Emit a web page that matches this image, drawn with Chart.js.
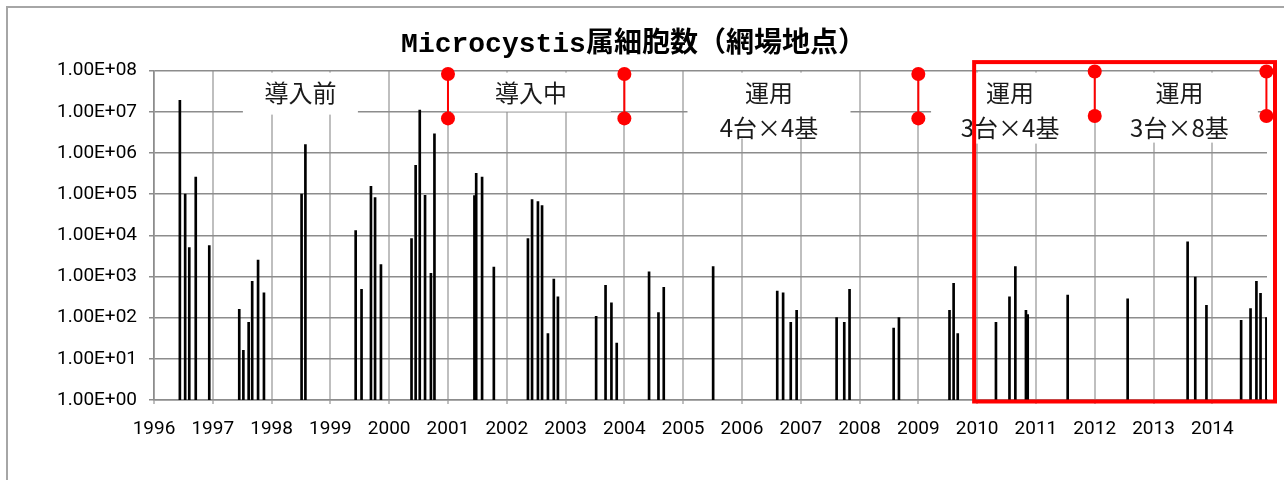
<!DOCTYPE html>
<html>
<head>
<meta charset="utf-8">
<script src="https://cdn.jsdelivr.net/npm/chart.js@4.4.0/dist/chart.umd.min.js"></script>
<style>
  html, body { margin: 0; padding: 0; background: #fff; }
  #wrap { position: relative; width: 1284px; height: 480px; overflow: hidden; }
  #frame { position: absolute; left: 6px; top: 6px; width: 1400px; height: 600px;
           border-left: 2px solid #a6a6a6; border-top: 2px solid #a6a6a6; }
  canvas { position: absolute; left: 0; top: 0; }
</style>
</head>
<body>
<div id="wrap">
  <div id="frame"></div>
  <canvas id="chart" width="1284" height="480"></canvas>
</div>
<script>
// ===== Data =====

const sampleYears = [
  1996.44, 1996.53, 1996.60, 1996.71, 1996.94,
  1997.45, 1997.52, 1997.61, 1997.67, 1997.77, 1997.87,
  1998.51, 1998.575,
  1999.43, 1999.53, 1999.69, 1999.76, 1999.86,
  2000.38, 2000.45, 2000.52, 2000.61, 2000.71, 2000.77,
  2001.45, 2001.48, 2001.58, 2001.78,
  2002.36, 2002.43, 2002.53, 2002.60, 2002.70, 2002.80, 2002.87,
  2003.52, 2003.68, 2003.78, 2003.87,
  2004.42, 2004.58, 2004.67,
  2005.51,
  2006.60, 2006.70, 2006.83, 2006.93,
  2007.61, 2007.74, 2007.83,
  2008.58, 2008.67,
  2009.53, 2009.60, 2009.67,
  2010.32, 2010.55, 2010.65, 2010.83, 2010.86,
  2011.54,
  2012.56,
  2013.58, 2013.71, 2013.90,
  2014.49, 2014.65, 2014.75, 2014.82, 2014.92
];

const cellCounts = [
  1.9e7, 1.0e5, 5.0e3, 2.6e5, 5.6e3,
  160, 16, 77, 760, 2500, 400,
  1.0e5, 1.6e6,
  1.3e4, 490, 1.55e5, 8.3e4, 1950,
  8.3e3, 5.0e5, 1.1e7, 9.3e4, 1.2e3, 2.9e6,
  9.2e4, 3.2e5, 2.6e5, 1.7e3,
  8.3e3, 7.4e4, 6.6e4, 5.3e4, 41, 860, 320,
  108, 610, 230, 24,
  1.3e3, 132, 545,
  1.75e3,
  440, 400, 77, 150,
  100, 77, 490,
  56, 100,
  150, 680, 41,
  77, 320, 1750, 150, 118,
  355,
  285,
  6.9e3, 970, 200,
  86, 166, 760, 390, 100
];

// red phase markers
const phaseLineYears = [2001, 2004, 2009, 2012, 2014.92];
const phaseLineTop = [8.3e7, 8.3e7, 8.3e7, 9.5e7, 9.5e7];
const phaseLineBottom = [6.9e6, 6.9e6, 6.9e6, 7.9e6, 7.9e6];

const phaseLabels = [['導入前'], ['導入中'], ['運用', '4台×4基'], ['運用', '3台×4基'], ['運用', '3台×8基']];

const yTickValues = [1, 1e1, 1e2, 1e3, 1e4, 1e5, 1e6, 1e7, 1e8];

// ===== Annotation plugin =====

const phaseLayout = {
  centers: [1998.49, 2002.41, 2006.46, 2010.56, 2013.44],
  boxes: [[115, 42], [160, 39], [163, 66], [158, 71], [157, 70]]
};

const phasePlugin = {
  id: 'phases',
  beforeDatasetsDraw(chart) {
    const {ctx, chartArea, scales} = chart;
    ctx.save();
    phaseLabels.forEach((lines, i) => {
      const cx = scales.x.getPixelForValue(phaseLayout.centers[i]);
      const [w, h] = phaseLayout.boxes[i];
      ctx.fillStyle = '#ffffff';
      ctx.fillRect(cx - w / 2, chartArea.top + 2, w, h);
      ctx.fillStyle = '#1a1a1a';
      ctx.font = '24px "Noto Sans CJK JP"';
      ctx.textAlign = 'center';
      ctx.textBaseline = 'middle';
      lines.forEach((t, j) => ctx.fillText(t, cx, chartArea.top + 22 + j * 35));
    });
    ctx.restore();
  },
  afterDraw(chart) {
    const {ctx, chartArea, scales} = chart;
    const left = scales.x.getPixelForValue(2010) - 3;
    const top = chartArea.top - 8.5;
    ctx.save();
    ctx.strokeStyle = '#ff0000';
    ctx.lineWidth = 4;
    ctx.strokeRect(left, top, chartArea.right + 8 - left, chartArea.bottom + 1.5 - top);
    ctx.restore();
  }
};

// ===== Datasets =====

const barDataset = {
  type: 'bar',
  data: sampleYears.map((x, i) => ({x: x, y: cellCounts[i]})),
  backgroundColor: '#000000',
  borderWidth: 0,
  barThickness: 2,
  order: 2
};

const markerDatasets = phaseLineYears.map((yr, i) => ({
  type: 'line',
  data: [{x: yr, y: phaseLineTop[i]}, {x: yr, y: phaseLineBottom[i]}],
  borderColor: '#ff0000',
  borderWidth: 2,
  pointRadius: 7,
  pointBackgroundColor: '#ff0000',
  pointBorderWidth: 0,
  clip: false,
  order: 1
}));

// ===== Chart =====

new Chart(document.getElementById('chart'), {
  type: 'bar',
  data: {datasets: [barDataset, ...markerDatasets]},
  options: {
    responsive: false,
    animation: false,
    devicePixelRatio: 1,
    layout: {padding: {left: 0, right: 17, top: 0, bottom: 0}},
    plugins: {
      legend: {display: false},
      tooltip: {enabled: false},
      title: {
        display: true,
        text: 'Microcystis属細胞数（網場地点）',
        color: '#000000',
        font: {family: "'Liberation Mono', 'Noto Sans CJK JP'", size: 28, weight: 'bold'},
        padding: {top: 28, bottom: 9}
      }
    },
    scales: {
      x: {
        type: 'linear',
        min: 1996,
        max: 2014.93,
        offset: false,
        grid: {offset: false, color: '#bfbfbf', lineWidth: 2, tickLength: 4},
        border: {color: '#8c8c8c', width: 1.5},
        ticks: {
          stepSize: 1,
          includeBounds: false,
          color: '#000000',
          padding: 14,
          maxRotation: 0,
          font: {family: 'Roboto', size: 19},
          callback: v => String(v)
        },
        afterFit: s => { s.height = 80; }
      },
      y: {
        type: 'logarithmic',
        min: 1,
        max: 1e8,
        grid: {color: '#8c8c8c', lineWidth: 1.5, tickLength: 5},
        border: {color: '#8c8c8c', width: 1.5},
        afterBuildTicks: s => { s.ticks = yTickValues.map(v => ({value: v})); },
        ticks: {
          color: '#000000',
          padding: 12,
          font: {family: 'Roboto', size: 19},
          callback: v => '1.00E+' + String(Math.round(Math.log10(v))).padStart(2, '0')
        },
        afterFit: s => { s.width = 154; }
      }
    }
  },
  plugins: [phasePlugin]
});
</script>
</body>
</html>
